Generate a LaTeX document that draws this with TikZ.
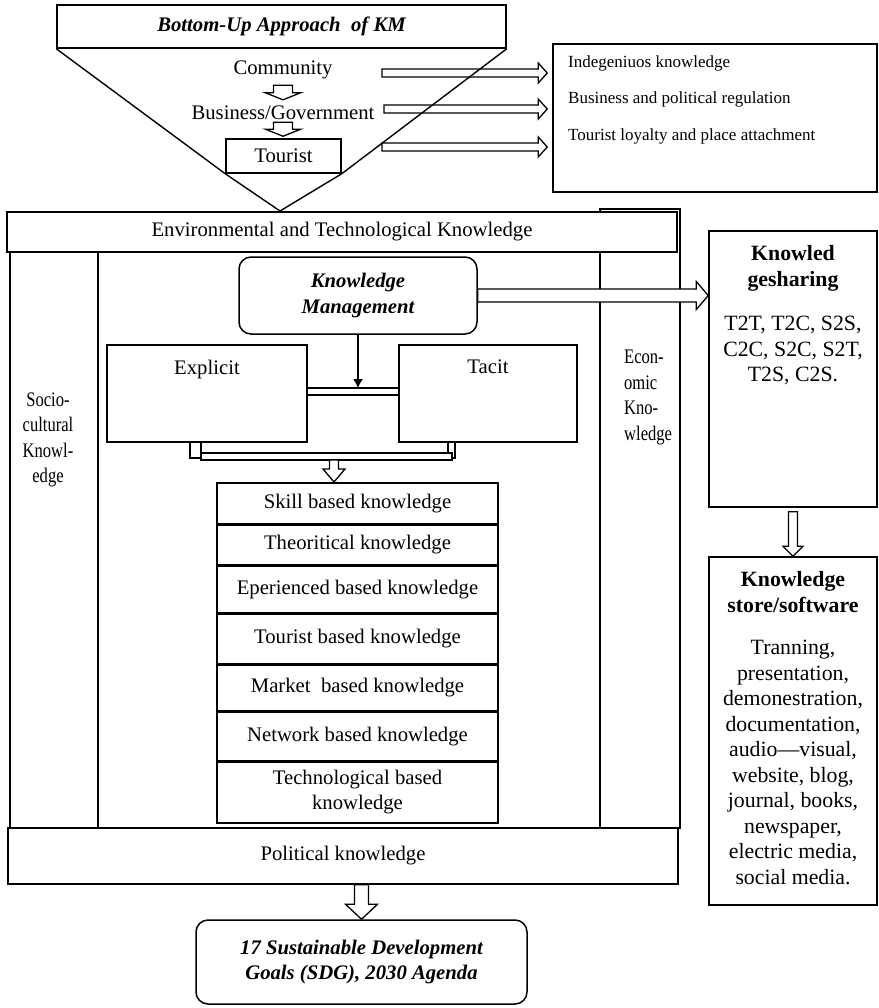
\documentclass[tikz,border=0pt]{standalone}
\usepackage{fontspec}
\setmainfont{Liberation Serif}
\newfontfamily\narrowserif[FakeStretch=0.8]{Liberation Serif}
\usetikzlibrary{arrows.meta,positioning,calc}
\tikzset{
  box/.style={draw,line width=1.5pt,fill=white,inner sep=3pt,align=center,
              font=\fontsize{20.7}{25.5}\selectfont},
  rbox/.style={box,rounded corners=12pt},
  bi/.style={font=\fontsize{20.7}{25.5}\selectfont\bfseries\itshape},
  cell/.style={box,minimum width=281pt,anchor=north},
  txt/.style={inner sep=0pt,align=center,font=\fontsize{20.7}{25.5}\selectfont},
  side/.style={txt,font=\narrowserif\fontsize{20.7}{25.5}\selectfont},
  body/.style={txt,font=\fontsize{21.8}{25.5}\selectfont},
  small/.style={inner sep=0pt,anchor=west,font=\fontsize{17}{20}\selectfont},
  ln/.style={line width=1.4pt},
  ar/.style={-{Latex[length=9pt,width=10pt]},line width=1.3pt},
  hol/.style={draw,fill=white,line width=1.3pt},
  rblk/.style n args={3}{hol,to path={let \p1=(\tikztostart),\p2=(\tikztotarget) in
     (\x1,\y1+#1) -- (\x2-#3,\y1+#1) -- (\x2-#3,\y1+#2) -- (\x2,\y1)
     -- (\x2-#3,\y1-#2) -- (\x2-#3,\y1-#1) -- (\x1,\y1-#1) -- cycle}},
  dblk/.style n args={3}{hol,to path={let \p1=(\tikztostart),\p2=(\tikztotarget) in
     (\x1-#1,\y1) -- (\x1-#1,\y2+#3) -- (\x1-#2,\y2+#3) -- (\x1,\y2)
     -- (\x1+#2,\y2+#3) -- (\x1+#1,\y2+#3) -- (\x1+#1,\y1) -- cycle}},
}

\begin{document}
\begin{tikzpicture}[x=1pt,y=-1pt]
  \useasboundingbox[fill=white] (0,0) rectangle (878,1008);
  % funnel
  \node[box,bi,minimum width=449pt,minimum height=43pt] (top) at (281.5,26.5) {Bottom-Up Approach\ \ of KM};
  \node[txt] (com) at (283,70) {Community};
  \node[txt] (bg) at (283,113) {Business/Government};
  \node[box,minimum width=115pt,minimum height=34pt] (tou) at (283.5,156) {Tourist};
  \draw[dblk={9.5pt}{17.5pt}{7pt}] ([yshift=-6pt]com.south) to ([yshift=6pt]bg.north);
  \draw[dblk={9.5pt}{17.5pt}{7pt}] ([yshift=-2pt]bg.south) to ([yshift=2pt]tou.north);
  \node[box,minimum width=324pt,minimum height=148pt] (rb) at (715,118) {};
  \node[small] (t1) at (568,63) {Indegeniuos knowledge};
  \node[small] (t2) at (568,99) {Business and political regulation};
  \node[small] (t3) at (568,136) {Tourist loyalty and place attachment};
  \coordinate (r1) at (382,73);
  \coordinate (r2) at (384,109);
  \coordinate (r3) at (382,147);
  \draw[rblk={4pt}{10pt}{9pt}] (r1) to ($(r1 -| rb.west)+(-5,0)$);
  \draw[rblk={4pt}{10pt}{9pt}] (r2) to ($(r2 -| rb.west)+(-5,0)$);
  \draw[rblk={4pt}{10pt}{9pt}] (r3) to ($(r3 -| rb.west)+(-5,0)$);
  \coordinate (apex) at (280,211);
  \draw[ln] (top.south west) -- (tou.south west) -- (apex) -- (tou.south east) -- (top.south east);

  % frame
  \node[box,minimum width=80pt,minimum height=619pt] (ecol) at (640,518.5) {};
  \node[box,minimum width=670pt,minimum height=40pt] (env) at (342,232) {Environmental and Technological Knowledge};
  \draw[ln] (10,252) -- (10,828);
  \draw[ln] (98,252) -- (98,828);
  \node[side] (soc) at (48,440) {Socio-\\cultural\\Knowl-\\edge};
  \node[side,align=left,anchor=west] (eco) at (624,397.5) {Econ-\\omic\\Kno-\\wledge};

  % centre
  \node[rbox,bi,minimum width=238pt,minimum height=77pt] (km) at (358,295.5) {Knowledge\\Management};
  \node[box,minimum width=200pt,minimum height=97pt,text depth=53pt] (exp) at (207,393.5) {Explicit};
  \node[box,minimum width=178pt,minimum height=97pt,text depth=53pt] (tac) at (488,393.5) {Tacit};
  \coordinate (bt) at (0,388);
  \coordinate (bb) at (0,395);
  \draw[hol] (exp.east |- bt) rectangle (tac.west |- bb);
  \draw[ar] (km.south) -- (km.south |- bt);
  \draw[hol] (190,442) rectangle (201,458);
  \draw[hol] (448,442) rectangle (455,458);
  \draw[hol] (201,453) rectangle (452,460);
  \coordinate (brc) at (334,460);

  \node[cell,minimum height=41pt] (sk) at (357.5,482) {Skill based knowledge};
  \node[cell,minimum height=39pt,below=0pt of sk] (th) {Theoritical knowledge};
  \node[cell,minimum height=47pt,below=0pt of th] (ep) {Eperienced based knowledge};
  \node[cell,minimum height=49pt,below=0pt of ep] (tb) {Tourist based knowledge};
  \node[cell,minimum height=46pt,below=0pt of tb] (mk) {Market\ \ based knowledge};
  \node[cell,minimum height=48pt,below=0pt of mk] (nw) {Network based knowledge};
  \node[cell,minimum height=61pt,below=0pt of nw] (tk) {Technological based\\knowledge};
  \draw[dblk={4.5pt}{11pt}{13pt}] (brc) to (brc |- sk.north);

  \node[box,minimum width=670pt,minimum height=56pt] (pol) at (343,856) {Political knowledge};
  \node[rbox,bi,minimum width=331pt,minimum height=84pt] (sdg) at (361.5,962) {17 Sustainable Development\\Goals (SDG), 2030 Agenda};
  \draw[dblk={7pt}{16pt}{15pt}] (sdg.north |- pol.south) to (sdg.north);

  % right side
  \node[box,minimum width=168pt,minimum height=276pt] (shr) at (793,369) {};
  \node[body,below=15pt of shr.north] (shrt) {\textbf{Knowled}\\\textbf{gesharing}\\[19pt]T2T, T2C, S2S,\\C2C, S2C, S2T,\\T2S, C2S.};
  \draw[rblk={6.5pt}{14pt}{12pt}] (km.east) to (shr.west);
  \node[box,minimum width=168pt,minimum height=348pt] (sto) at (793,731) {};
  \node[body,below=15pt of sto.north] (stot) {\textbf{Knowledge}\\\textbf{store/software}\\[17pt]Tranning,\\presentation,\\demonestration,\\documentation,\\audio---visual,\\website, blog,\\journal, books,\\newspaper,\\electric media,\\social media.};
  \draw[dblk={4.5pt}{10pt}{10pt}] ([yshift=-4pt]shr.south) to (sto.north);
\end{tikzpicture}
\end{document}
